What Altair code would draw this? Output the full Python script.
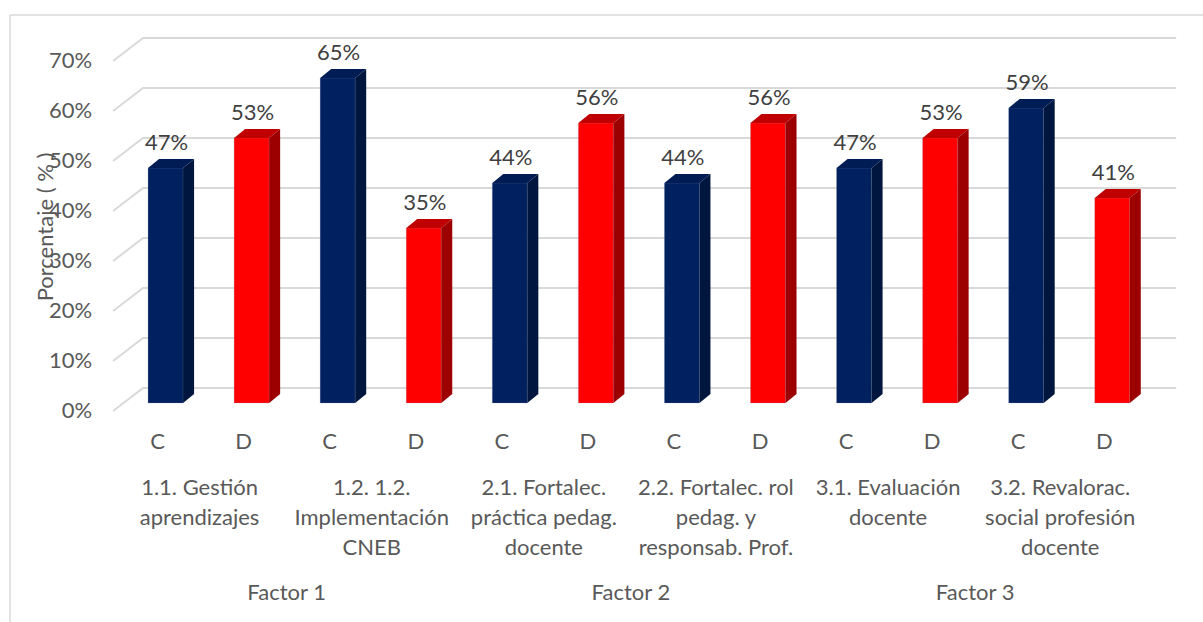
import altair as alt
import pandas as pd

# ---------------- data ----------------
series = ["C", "D"] * 6
values = [47, 53, 65, 35, 44, 56, 44, 56, 47, 53, 59, 41]
groups = [
    "1.1. Gestión\naprendizajes",
    "1.2. 1.2.\nImplementación\nCNEB",
    "2.1. Fortalec.\npráctica pedag.\ndocente",
    "2.2. Fortalec. rol\npedag. y\nresponsab. Prof.",
    "3.1. Evaluación\ndocente",
    "3.2. Revalorac.\nsocial  profesión\ndocente",
]
factors = ["Factor 1", "Factor 2", "Factor 3"]
ticks = [0, 10, 20, 30, 40, 50, 60, 70]
y_title = "Porcentaje ( % )"

# ---------------- styling ----------------
FONT = "Lato"
FS = 22
HALF = 0.2035   # half bar width (x units)
DX = 0.128      # depth in x units
DY = 1.8        # depth in y units
colors = {
    "C-front": "#002060", "C-top": "#001C55", "C-side": "#00163F",
    "D-front": "#FF0000", "D-top": "#C00000", "D-side": "#9C0000",
}
xs = alt.Scale(domain=[-0.75, 11.95], nice=False, zero=False)
ys = alt.Scale(domain=[-3.4, 76.6], nice=False, zero=False)
cs = alt.Scale(domain=list(colors.keys()), range=list(colors.values()))

# ---------------- derived tables ----------------
bars = pd.DataFrame({
    "i": list(range(len(values))), "s": series, "v": [float(v) for v in values],
})
bars["xl"] = bars["i"] - HALF
bars["xr"] = bars["i"] + HALF
bars["face"] = bars["s"] + "-front"
bars["lab"] = [f"{v}%" for v in values]

side_rows, top_rows = [], []
for i, (s, v) in enumerate(zip(series, values)):
    xl, xr = i - HALF, i + HALF
    side_rows += [
        dict(bid=f"b{i}", px=xr, py=0.0, py2=float(v), face=s + "-side"),
        dict(bid=f"b{i}", px=xr + DX, py=DY, py2=v + DY, face=s + "-side"),
    ]
    top_rows += [
        dict(bid=f"b{i}", px=xl, py=float(v), py2=float(v), face=s + "-top"),
        dict(bid=f"b{i}", px=xl + DX, py=float(v), py2=v + DY, face=s + "-top"),
        dict(bid=f"b{i}", px=xr, py=float(v), py2=v + DY, face=s + "-top"),
        dict(bid=f"b{i}", px=xr + DX, py=v + DY, py2=v + DY, face=s + "-top"),
    ]
side = pd.DataFrame(side_rows)
top = pd.DataFrame(top_rows)

grid_rows = []
for t in ticks:
    grid_rows += [
        dict(t=t, ord=0, x=-0.61, y=t - 1.6),
        dict(t=t, ord=1, x=-0.2615, y=t + 3),
        dict(t=t, ord=2, x=11.743, y=t + 3),
    ]
grid = pd.DataFrame(grid_rows)
tick_df = pd.DataFrame({"t": ticks, "lab": [f"{t}%" for t in ticks]})
tick_df["y"] = tick_df["t"] - 1.6
tick_df["x"] = -0.61

grp_df = pd.DataFrame({"x": [2 * k + 0.5 for k in range(len(groups))], "lab": groups})
fac_df = pd.DataFrame({"x": [4 * k + 1.5 for k in range(len(factors))], "lab": factors})

# ---------------- layers ----------------
gridlines = alt.Chart(grid).mark_line(color="#d9d9d9", strokeWidth=2).encode(
    x=alt.X("x:Q", scale=xs, axis=None),
    y=alt.Y("y:Q", scale=ys, axis=None),
    detail="t:N", order="ord:Q",
)
front = alt.Chart(bars).mark_rect(stroke="#8a9bb8", strokeWidth=0.4, strokeOpacity=0.6).encode(
    x=alt.X("xl:Q", scale=xs, axis=None), x2="xr:Q",
    y=alt.Y("v:Q", scale=ys, axis=None, stack=None), y2=alt.datum(0),
    color=alt.Color("face:N", scale=cs, legend=None),
)


def face_layer(df):
    return alt.Chart(df).mark_area(opacity=1, interpolate="linear").encode(
        x=alt.X("px:Q", scale=xs, axis=None),
        y=alt.Y("py:Q", scale=ys, axis=None, stack=None),
        y2=alt.Y2("py2"),
        detail=alt.Detail("bid:N"),
        color=alt.Color("face:N", scale=cs, legend=None),
    )


side_l = face_layer(side)
top_l = face_layer(top)

val_labels = alt.Chart(bars).mark_text(
    font=FONT, fontSize=FS, color="#404040", baseline="alphabetic", dy=-18, dx=1
).encode(
    x=alt.X("i:Q", scale=xs, axis=None),
    y=alt.Y("v:Q", scale=ys, axis=None),
    text="lab:N",
)
tick_labels = alt.Chart(tick_df).mark_text(
    font=FONT, fontSize=FS, color="#595959", align="right", baseline="middle", dx=-21
).encode(
    x=alt.X("x:Q", scale=xs, axis=None),
    y=alt.Y("y:Q", scale=ys, axis=None),
    text="lab:N",
)
series_labels = alt.Chart(bars).mark_text(
    font=FONT, fontSize=FS, color="#595959", baseline="alphabetic", dx=-8
).encode(
    x=alt.X("i:Q", scale=xs, axis=None),
    y=alt.value(429),
    text="s:N",
)
group_labels = alt.Chart(grp_df).mark_text(
    font=FONT, fontSize=FS, color="#595959", baseline="alphabetic", dx=-9,
    lineBreak="\n", lineHeight=30,
).encode(
    x=alt.X("x:Q", scale=xs, axis=None),
    y=alt.value(475),
    text="lab:N",
)
factor_labels = alt.Chart(fac_df).mark_text(
    font=FONT, fontSize=FS, color="#595959", baseline="alphabetic", dx=-8
).encode(
    x=alt.X("x:Q", scale=xs, axis=None),
    y=alt.value(580),
    text="lab:N",
)
title_l = alt.Chart(pd.DataFrame({"lab": [y_title]})).mark_text(
    font=FONT, fontSize=FS, color="#595959", angle=270, baseline="middle", align="center"
).encode(
    x=alt.value(-55), y=alt.value(207), text="lab:N",
)
frame = pd.DataFrame({"k": [0]})
border_left = alt.Chart(frame).mark_rule(color="#d9d9d9", strokeWidth=1.5).encode(
    x=alt.value(-91), y=alt.value(-5), y2=alt.value(700)
)
border_top = alt.Chart(frame).mark_rule(color="#d9d9d9", strokeWidth=1.5).encode(
    x=alt.value(-91), x2=alt.value(1300), y=alt.value(-5)
)

chart = alt.layer(
    border_left, border_top, gridlines, front, top_l, side_l,
    val_labels, tick_labels, series_labels, group_labels, factor_labels, title_l,
).properties(
    width=1093, height=400,
    padding={"left": 101, "top": 20, "right": 9, "bottom": 202},
    autosize=alt.AutoSizeParams(type="none"),
    background="white",
).configure_view(stroke=None)

chart.save("out.html", embed_options={"renderer": "svg", "actions": False})
